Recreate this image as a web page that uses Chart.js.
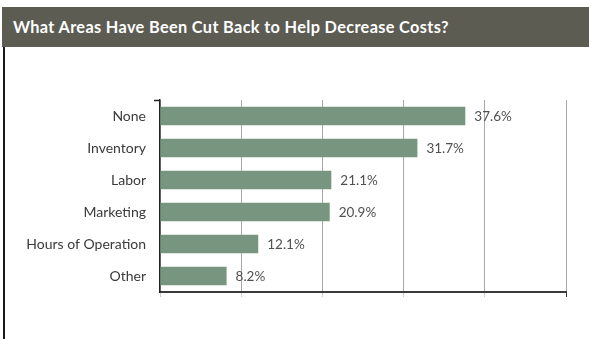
<!DOCTYPE html>
<html>
<head>
<meta charset="utf-8">
<script src="https://cdn.jsdelivr.net/npm/chart.js@4.4.1/dist/chart.umd.min.js"></script>
<style>
  html, body { margin: 0; padding: 0; background: #fff; }
  #wrap { position: relative; width: 589px; height: 339px; overflow: hidden; }
  #titleBar {
    position: absolute; left: 2px; top: 7px; width: 587px; height: 40px;
    background: #5c5c53; color: #fff;
    font: bold 16.3px Lato, "Open Sans", sans-serif;
    line-height: 40px; padding-left: 11px; box-sizing: border-box;
    letter-spacing: 0.35px;
  }
  #leftRule { position: absolute; left: 3px; top: 47px; width: 2px; height: 292px; background: #1a1a1a; }
  #myChart { position: absolute; left: 0; top: 0; }
</style>
</head>
<body>
<div id="wrap">
  <div id="titleBar">What Areas Have Been Cut Back to Help Decrease Costs?</div>
  <div id="leftRule"></div>
  <canvas id="myChart" width="589" height="339"></canvas>
</div>
<script>
// data
const categories = ["None", "Inventory", "Labor", "Marketing", "Hours of Operation", "Other"];
const percentValues = [37.6, 31.7, 21.1, 20.9, 12.1, 8.2];
const valueLabels = ["37.6%", "31.7%", "21.1%", "20.9%", "12.1%", "8.2%"];
const axisMax = 50;
const axisStep = 10;

const barColor = "#78967f";
const labelFont = "Lato, 'Open Sans', sans-serif";

// writes the % next to each bar
const valueLabelPlugin = {
    id: "valueLabels",
    afterDatasetsDraw(chart) {
        const ctx = chart.ctx;
        const meta = chart.getDatasetMeta(0);
        ctx.save();
        ctx.font = "13.5px " + labelFont;
        ctx.fillStyle = "#505050";
        ctx.textAlign = "left";
        ctx.textBaseline = "middle";
        meta.data.forEach((bar, i) => {
            ctx.fillText(valueLabels[i], bar.x + 9, bar.y + 1);
        });
        ctx.restore();
    }
};

// little tick at top of the y axis
const axisCapPlugin = {
    id: "axisCap",
    afterDraw(chart) {
        const ctx = chart.ctx;
        const area = chart.chartArea;
        ctx.save();
        ctx.strokeStyle = "#222";
        ctx.lineWidth = 1.5;
        ctx.beginPath();
        ctx.moveTo(area.left - 6, area.top + 0.5);
        ctx.lineTo(area.left, area.top + 0.5);
        ctx.stroke();
        ctx.restore();
    }
};

const ctx = document.getElementById("myChart");

new Chart(ctx, {
    type: "bar",
    data: {
        labels: categories,
        datasets: [{
            data: percentValues,
            backgroundColor: barColor,
            borderWidth: 0,
            barPercentage: 0.58,
            categoryPercentage: 1
        }]
    },
    options: {
        indexAxis: "y",
        responsive: false,
        animation: false,
        layout: { padding: { left: 0, right: 23, top: 100, bottom: 0 } },
        plugins: {
            legend: { display: false },
            tooltip: { enabled: false },
            title: { display: false }
        },
        scales: {
            x: {
                min: 0,
                max: axisMax,
                afterFit(scale) { scale.height = 47; },
                ticks: { stepSize: axisStep, display: false },
                grid: {
                    color: "#a8a8a8",
                    lineWidth: 1,
                    drawTicks: true,
                    tickLength: 5,
                    tickColor: (c) => c.index === 5 ? "#333" : "#cfcfcf"
                },
                border: { display: true, color: "#3a3a3a", width: 2 }
            },
            y: {
                afterFit(scale) { scale.width = 160; },
                ticks: {
                    color: "#3a3a3a",
                    padding: 14,
                    font: { family: labelFont, size: 14 }
                },
                grid: { display: false, drawTicks: false },
                border: { display: true, color: "#222", width: 1.5 }
            }
        }
    },
    plugins: [valueLabelPlugin, axisCapPlugin]
});
</script>
</body>
</html>
